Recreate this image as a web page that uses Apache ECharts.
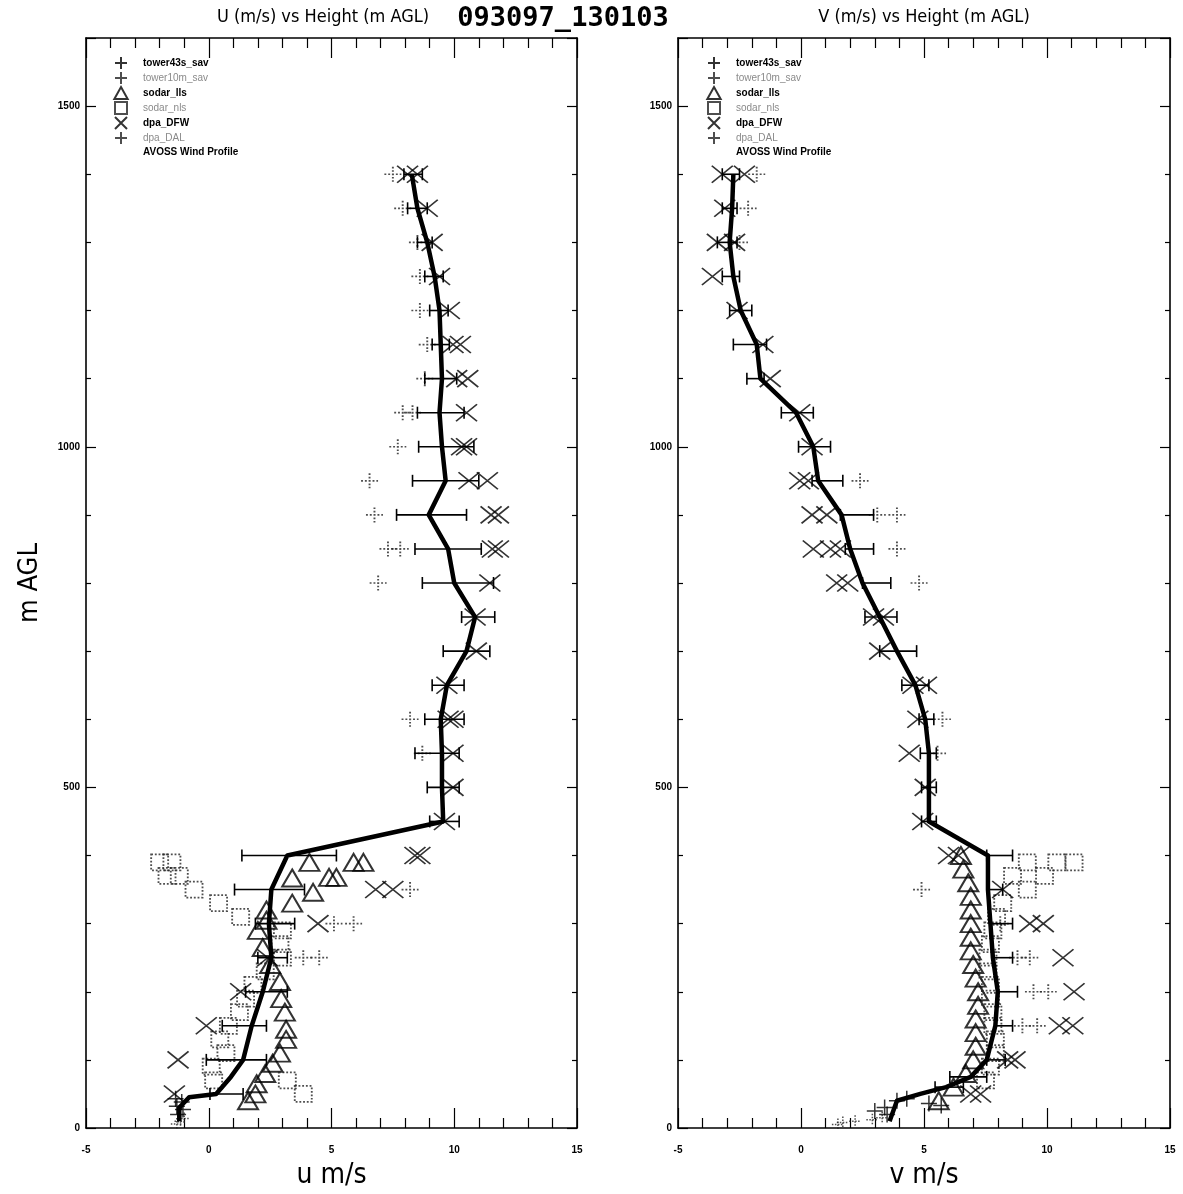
<!DOCTYPE html>
<html>
<head>
<meta charset="utf-8">
<title>093097_130103</title>
<script src="https://cdn.jsdelivr.net/npm/echarts@6/dist/echarts.min.js"></script>
<style>
    html, body { margin: 0; padding: 0; background: #fff; }
    #wind-profile { width: 1183px; height: 1194px; }
</style>
</head>
<body>
<div id="wind-profile"></div>
<script>
// axis ticks
const speedTicks = [-5, 0, 5, 10, 15];
const heightTicks = [0, 500, 1000, 1500];
const heightMax = 1600;

const seriesNames = ['tower43s_sav', 'tower10m_sav', 'sodar_lls', 'sodar_nls', 'dpa_DFW', 'dpa_DAL', 'AVOSS Wind Profile'];

// ---- U component (left panel) ----
const avossHeightsU = [10, 30, 45, 50, 75, 100, 150, 200, 250, 300, 350, 400, 450, 500, 550, 600, 650, 700, 750, 800, 850, 900, 950, 1000, 1050, 1100, 1150, 1200, 1250, 1300, 1350, 1400];
const avossU = [-1.2, -1.2, -0.8, 0.3, 0.9, 1.4, 1.75, 2.2, 2.55, 2.45, 2.55, 3.2, 9.55, 9.5, 9.5, 9.45, 9.7, 10.5, 10.85, 10.0, 9.75, 8.96, 9.65, 9.5, 9.4, 9.5, 9.45, 9.4, 9.2, 8.9, 8.5, 8.27];

const errHeightsU = [50, 100, 150, 200, 250, 300, 350, 400, 450, 500, 550, 600, 650, 700, 750, 800, 850, 900, 950, 1000, 1050, 1100, 1150, 1200, 1250, 1300, 1350, 1400];
const errLowU = [0.05, -0.1, 0.55, 1.5, 2.0, 1.9, 1.05, 1.35, 9.0, 8.9, 8.4, 8.8, 9.1, 9.55, 10.3, 8.7, 8.4, 7.65, 8.3, 8.55, 8.5, 8.8, 9.1, 9.0, 8.8, 8.5, 8.1, 7.95];
const errHighU = [1.4, 2.35, 2.35, 3.2, 3.2, 3.5, 3.9, 5.2, 10.2, 10.2, 10.2, 10.4, 10.4, 11.45, 11.65, 11.6, 11.1, 10.5, 11.0, 10.8, 10.4, 10.1, 9.8, 9.75, 9.55, 9.1, 8.9, 8.7];

const dfwHeightsU = [1400, 1400, 1350, 1300, 1250, 1200, 1150, 1150, 1100, 1100, 1050, 1000, 1000, 950, 950, 900, 900, 850, 850, 800, 750, 700, 650, 600, 600, 550, 500, 450, 400, 400, 350, 350, 300, 250, 200, 150, 100, 50];
const dfwU = [8.1, 8.5, 8.9, 9.1, 9.4, 9.8, 9.95, 10.25, 10.1, 10.55, 10.5, 10.3, 10.5, 10.6, 11.35, 11.5, 11.8, 11.55, 11.8, 11.45, 10.85, 10.9, 9.7, 9.75, 9.95, 9.95, 9.95, 9.6, 8.4, 8.6, 6.8, 7.5, 4.45, 2.4, 1.3, -0.1, -1.25, -1.4];

const dalHeightsU = [1400, 1350, 1300, 1250, 1200, 1150, 1100, 1050, 1050, 1000, 950, 900, 850, 850, 800, 600, 550, 350, 300, 300, 250, 250];
const dalU = [7.5, 7.9, 8.5, 8.6, 8.6, 8.9, 8.8, 7.9, 8.3, 7.7, 6.55, 6.75, 7.3, 7.8, 6.9, 8.2, 8.7, 8.2, 5.1, 5.9, 3.85, 4.5];

const sodarLlsHeightsU = [40, 50, 65, 80, 95, 110, 130, 145, 170, 190, 215, 240, 265, 290, 305, 320, 330, 346, 367, 368, 368, 390, 390, 390];
const sodarLlsU = [1.6, 1.9, 1.95, 2.3, 2.6, 2.9, 3.15, 3.15, 3.1, 2.95, 2.9, 2.5, 2.2, 2.0, 2.35, 2.35, 3.4, 4.25, 3.4, 4.9, 5.2, 4.1, 5.9, 6.3];

const sodarNlsHeightsU = [390, 390, 370, 370, 350, 330, 310, 290, 270, 250, 230, 210, 190, 170, 150, 130, 110, 90, 70, 70, 50];
const sodarNlsU = [-2.0, -1.5, -1.7, -1.2, -0.6, 0.4, 1.3, 3.0, 2.9, 3.0, 2.3, 1.8, 1.5, 1.25, 0.8, 0.45, 0.7, 0.1, 0.2, 3.2, 3.85];

const tower43HeightsU = [43, 38, 32, 27, 20];
const tower43U = [-1.35, -1.1, -1.3, -1.05, -1.25];
const tower10HeightsU = [10, 6, 14];
const tower10U = [-1.15, -1.3, -1.0];

// ---- V component (right panel) ----
const avossHeightsV = [10, 25, 40, 50, 60, 75, 100, 150, 200, 250, 300, 350, 400, 450, 500, 550, 600, 650, 700, 750, 800, 850, 900, 950, 1000, 1050, 1100, 1150, 1200, 1250, 1300, 1350, 1400];
const avossV = [3.6, 3.75, 3.9, 4.85, 5.9, 6.9, 7.55, 7.9, 8.0, 7.8, 7.7, 7.6, 7.6, 5.2, 5.2, 5.2, 5.05, 4.65, 3.9, 3.2, 2.5, 2.0, 1.65, 0.7, 0.5, -0.2, -1.65, -1.8, -2.45, -2.75, -2.9, -2.8, -2.75];

const errHeightsV = [60, 75, 100, 150, 200, 250, 300, 350, 400, 450, 500, 550, 600, 650, 700, 750, 800, 850, 900, 950, 1000, 1050, 1100, 1150, 1200, 1250, 1300, 1350, 1400];
const errLowV = [5.45, 6.05, 7.55, 7.9, 8.0, 7.8, 7.7, 7.6, 7.55, 4.9, 4.9, 4.85, 4.8, 4.1, 3.2, 2.6, 2.5, 1.8, 1.6, 0.45, -0.1, -0.8, -2.2, -2.75, -2.9, -3.2, -3.4, -3.2, -3.2];
const errHighV = [6.6, 7.55, 8.3, 8.6, 8.8, 8.6, 8.6, 8.2, 8.6, 5.5, 5.5, 5.5, 5.4, 5.2, 4.7, 3.9, 3.65, 2.95, 2.95, 1.7, 1.2, 0.5, -1.5, -1.4, -2.0, -2.5, -2.6, -2.6, -2.5];

const dfwHeightsV = [1400, 1400, 1350, 1300, 1300, 1250, 1200, 1150, 1100, 1050, 1000, 950, 950, 900, 900, 850, 850, 850, 800, 800, 750, 750, 700, 650, 650, 600, 550, 500, 450, 400, 400, 350, 300, 300, 250, 200, 150, 150, 100, 100, 50, 50];
const dfwV = [-3.2, -2.3, -3.1, -3.4, -2.7, -3.6, -2.6, -1.55, -1.25, -0.05, 0.45, -0.05, 0.3, 0.45, 1.05, 0.5, 1.2, 1.6, 1.45, 1.9, 2.95, 3.35, 3.2, 4.55, 5.1, 4.75, 4.4, 5.05, 4.95, 6.0, 6.4, 8.2, 9.3, 9.85, 10.65, 11.1, 10.5, 11.05, 8.7, 8.4, 7.3, 6.9];

const dalHeightsV = [1400, 1350, 1300, 950, 900, 900, 850, 800, 600, 550, 350, 300, 250, 250, 200, 200, 150, 150];
const dalV = [-1.8, -2.15, -2.5, 2.4, 3.1, 3.9, 3.9, 4.8, 5.75, 5.55, 4.9, 8.1, 8.8, 9.3, 9.45, 10.05, 9.0, 9.6];

const sodarLlsHeightsV = [40, 60, 80, 100, 120, 140, 160, 180, 200, 220, 240, 260, 280, 300, 320, 340, 360, 380, 400];
const sodarLlsV = [5.6, 6.2, 6.7, 7.0, 7.1, 7.1, 7.1, 7.2, 7.2, 7.1, 7.0, 6.9, 6.9, 6.9, 6.9, 6.9, 6.8, 6.6, 6.5];

const sodarNlsHeightsV = [390, 390, 390, 370, 370, 350, 330, 310, 290, 270, 250, 230, 210, 190, 170, 150, 130, 110, 90, 70];
const sodarNlsV = [9.2, 10.4, 11.1, 8.6, 9.9, 9.2, 8.2, 7.95, 7.8, 7.7, 7.6, 7.6, 7.7, 7.7, 7.8, 7.8, 7.9, 7.9, 7.7, 7.5];

const tower43HeightsV = [43, 40, 36, 33, 30, 25, 20];
const tower43V = [4.3, 3.9, 5.2, 5.7, 3.4, 3.0, 3.5];
const tower10HeightsV = [10, 12, 8, 15, 5];
const tower10V = [2.2, 2.9, 1.7, 3.3, 1.5];

// marker shapes
const plusPath = 'path://M5,0 L5,10 M0,5 L10,5';
const crossPath = 'path://M0,0 L10,10 M10,0 L0,10';
const trianglePath = 'path://M5,0 L10,9 L0,9 Z';
const squarePath = 'path://M0,0 L10,0 L10,10 L0,10 Z';

const narrowFont = '"Liberation Sans Narrow", "DejaVu Sans Condensed", "Liberation Sans", sans-serif';
const labelFont = '"Liberation Sans", Arial, sans-serif';

let pairs = (heights, values) => heights.map((h, i) => [values[i], h]);

let scatter = (name, heights, values, panel, symbol, size, dotted, width) => {
    return {
        name: name,
        type: 'scatter',
        xAxisIndex: panel * 2,
        yAxisIndex: panel * 2,
        data: pairs(heights, values),
        symbol: symbol,
        symbolSize: size,
        itemStyle: {
            color: 'transparent',
            borderColor: dotted ? '#222' : '#000',
            borderWidth: width,
            borderType: dotted ? 'dotted' : 'solid'
        },
        emphasis: {disabled: true},
        z: 3
    };
};

let renderErrorBar = (params, api) => {
    let h = api.value(2);
    let lo = api.coord([api.value(0), h]);
    let hi = api.coord([api.value(1), h]);
    let cap = 6;
    let style = {stroke: '#000', lineWidth: 1.6};
    return {
        type: 'group',
        children: [
            {type: 'line', shape: {x1: lo[0], y1: lo[1], x2: hi[0], y2: hi[1]}, style: style},
            {type: 'line', shape: {x1: lo[0], y1: lo[1] - cap, x2: lo[0], y2: lo[1] + cap}, style: style},
            {type: 'line', shape: {x1: hi[0], y1: hi[1] - cap, x2: hi[0], y2: hi[1] + cap}, style: style}
        ]
    };
};

let panelSeries = (panel, d) => [
    {
        name: seriesNames[6],
        type: 'line',
        xAxisIndex: panel * 2,
        yAxisIndex: panel * 2,
        data: pairs(d.avossH, d.avoss),
        showSymbol: false,
        lineStyle: {color: '#000', width: 4.5, join: 'round'},
        itemStyle: {color: '#000'},
        z: 5
    },
    {
        name: seriesNames[6],
        type: 'custom',
        xAxisIndex: panel * 2,
        yAxisIndex: panel * 2,
        renderItem: renderErrorBar,
        encode: {x: [0, 1], y: 2},
        data: d.errH.map((h, i) => [d.errLo[i], d.errHi[i], h]),
        itemStyle: {color: '#000'},
        z: 4
    },
    scatter(seriesNames[0], d.t43H, d.t43, panel, plusPath, [16, 16], false, 1.5),
    scatter(seriesNames[1], d.t10H, d.t10, panel, plusPath, [12, 12], true, 1.5),
    scatter(seriesNames[2], d.llsH, d.lls, panel, trianglePath, [20, 17], false, 2),
    scatter(seriesNames[3], d.nlsH, d.nls, panel, squarePath, [17, 16], true, 1.8),
    scatter(seriesNames[4], d.dfwH, d.dfw, panel, crossPath, [21, 17], false, 1.6),
    scatter(seriesNames[5], d.dalH, d.dal, panel, plusPath, [17, 15], true, 1.8)
];

let xAxisDef = (gridIndex, position, name) => ({
    type: 'value',
    gridIndex: gridIndex,
    position: position,
    min: speedTicks[0],
    max: speedTicks[speedTicks.length - 1],
    interval: speedTicks[1] - speedTicks[0],
    name: name,
    nameLocation: 'middle',
    nameGap: 34,
    nameTextStyle: {color: '#000', fontSize: 28, fontFamily: narrowFont},
    axisLine: {show: true, onZero: false, lineStyle: {color: '#000', width: 1.6}},
    axisTick: {show: true, inside: true, length: 20, lineStyle: {color: '#000', width: 1.2}},
    minorTick: {show: true, splitNumber: 5, length: 10, lineStyle: {color: '#000', width: 1.2}},
    axisLabel: {
        show: position === 'bottom',
        margin: 17,
        color: '#000',
        fontSize: 10,
        fontWeight: 'bold',
        fontFamily: labelFont
    },
    splitLine: {show: false}
});

let yAxisDef = (gridIndex, position, name) => ({
    type: 'value',
    gridIndex: gridIndex,
    position: position,
    min: heightTicks[0],
    max: heightMax,
    interval: heightTicks[1] - heightTicks[0],
    name: name,
    nameLocation: 'middle',
    nameGap: 43,
    nameTextStyle: {color: '#000', fontSize: 27, fontFamily: narrowFont},
    axisLine: {show: true, onZero: false, lineStyle: {color: '#000', width: 1.6}},
    axisTick: {show: true, inside: true, length: 10, lineStyle: {color: '#000', width: 1.2}},
    minorTick: {show: true, splitNumber: 5, length: 5, lineStyle: {color: '#000', width: 1.2}},
    axisLabel: {
        show: position === 'left',
        showMaxLabel: false,
        margin: 6,
        color: '#000',
        fontSize: 10,
        fontWeight: 'bold',
        fontFamily: labelFont,
        formatter: (v) => String(v)
    },
    splitLine: {show: false}
});

let legendDef = (left) => ({
    left: left,
    top: 56,
    orient: 'vertical',
    padding: 0,
    itemGap: 1,
    itemWidth: 34,
    itemHeight: 12,
    symbolKeepAspect: true,
    selectedMode: false,
    textStyle: {color: '#000', fontSize: 10, fontWeight: 'bold', fontFamily: labelFont},
    data: seriesNames.map((n, i) => {
        let faint = i === 1 || i === 3 || i === 5;
        let item = {name: n};
        if (faint) {
            item.textStyle = {color: '#8a8a8a', fontWeight: 'normal'};
        }
        if (i === 6) {
            item.icon = 'none';
        }
        return item;
    })
});

let leftData = {
    avossH: avossHeightsU, avoss: avossU,
    errH: errHeightsU, errLo: errLowU, errHi: errHighU,
    t43H: tower43HeightsU, t43: tower43U,
    t10H: tower10HeightsU, t10: tower10U,
    llsH: sodarLlsHeightsU, lls: sodarLlsU,
    nlsH: sodarNlsHeightsU, nls: sodarNlsU,
    dfwH: dfwHeightsU, dfw: dfwU,
    dalH: dalHeightsU, dal: dalU
};
let rightData = {
    avossH: avossHeightsV, avoss: avossV,
    errH: errHeightsV, errLo: errLowV, errHi: errHighV,
    t43H: tower43HeightsV, t43: tower43V,
    t10H: tower10HeightsV, t10: tower10V,
    llsH: sodarLlsHeightsV, lls: sodarLlsV,
    nlsH: sodarNlsHeightsV, nls: sodarNlsV,
    dfwH: dfwHeightsV, dfw: dfwV,
    dalH: dalHeightsV, dal: dalV
};

let option = {
    backgroundColor: '#fff',
    animation: false,
    title: [
        {
            text: 'U (m/s) vs Height (m AGL)',
            left: 323, top: 8, textAlign: 'center', padding: 0,
            textStyle: {color: '#000', fontSize: 18, fontWeight: 'normal', fontFamily: narrowFont}
        },
        {
            text: '093097_130103',
            left: 563, top: 5, textAlign: 'center', padding: 0,
            textStyle: {color: '#000', fontSize: 27, fontWeight: 'bold', fontFamily: '"DejaVu Sans Mono", monospace'}
        },
        {
            text: 'V (m/s) vs Height (m AGL)',
            left: 924, top: 8, textAlign: 'center', padding: 0,
            textStyle: {color: '#000', fontSize: 18, fontWeight: 'normal', fontFamily: narrowFont}
        }
    ],
    legend: [legendDef(104), legendDef(697)],
    grid: [
        {left: 86, top: 38, width: 491, height: 1090, outerBoundsMode: 'none'},
        {left: 678, top: 38, width: 492, height: 1090, outerBoundsMode: 'none'}
    ],
    xAxis: [
        xAxisDef(0, 'bottom', 'u m/s'),
        xAxisDef(0, 'top', ''),
        xAxisDef(1, 'bottom', 'v m/s'),
        xAxisDef(1, 'top', '')
    ],
    yAxis: [
        yAxisDef(0, 'left', 'm AGL'),
        yAxisDef(0, 'right', ''),
        yAxisDef(1, 'left', ''),
        yAxisDef(1, 'right', '')
    ],
    series: panelSeries(0, leftData).concat(panelSeries(1, rightData))
};

let chart = echarts.init(document.getElementById('wind-profile'));
chart.setOption(option);
</script>
</body>
</html>
